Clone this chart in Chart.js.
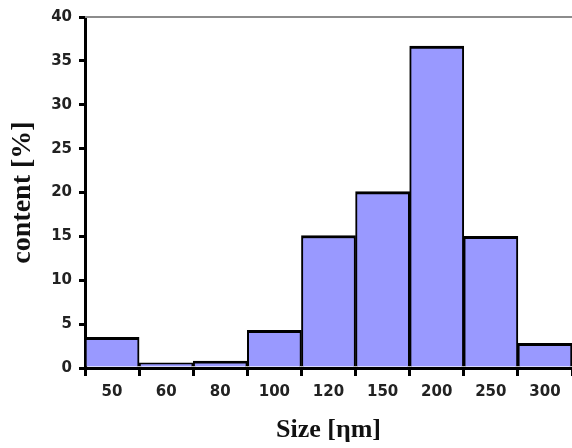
<!DOCTYPE html>
<html>
<head>
<meta charset="utf-8">
<script src="https://cdn.jsdelivr.net/npm/chart.js@4"></script>
<style>
  html, body { margin: 0; padding: 0; background: #fff; overflow: hidden; }
  #wrap { width: 572px; height: 448px; }
</style>
</head>
<body>
<div id="wrap"><canvas id="chart"></canvas></div>
<script>
const sizes = ['50', '60', '80', '100', '120', '150', '200', '250', '300'];
const content = [3.5, 0.6, 0.8, 4.3, 15.1, 20.1, 36.7, 15.0, 2.8];
const yTicks = [0, 5, 10, 15, 20, 25, 30, 35, 40];

// grey frame line on top of the plot area
const topLine = {
  id: 'topLine',
  afterDraw(chart) {
    const { ctx, chartArea } = chart;
    ctx.save();
    ctx.strokeStyle = '#8c8c8c';
    ctx.lineWidth = 2;
    ctx.beginPath();
    ctx.moveTo(chartArea.left, chartArea.top);
    ctx.lineTo(chartArea.right, chartArea.top);
    ctx.stroke();
    ctx.restore();
  }
};

const tickFont = { family: '"DejaVu Sans", Arial, sans-serif', size: 15, weight: 'bold' };
const titleFamily = '"Liberation Serif", "Times New Roman", serif';

new Chart(document.getElementById('chart'), {
  type: 'bar',
  data: {
    labels: sizes,
    datasets: [{
      data: content,
      backgroundColor: '#9999ff',
      borderColor: '#000',
      borderWidth: { top: 3, left: 2, right: 2, bottom: 0 },
      borderSkipped: false,
      categoryPercentage: 1,
      barPercentage: 1
    }]
  },
  options: {
    responsive: true,
    maintainAspectRatio: false,
    animation: false,
    layout: { padding: { top: 17, right: 0, left: 0, bottom: 0 } },
    plugins: {
      legend: { display: false },
      tooltip: { enabled: false }
    },
    scales: {
      x: {
        z: 1,
        offset: true,
        grid: {
          offset: true,
          drawOnChartArea: false,
          drawTicks: true,
          tickLength: 8,
          color: '#000',
          lineWidth: 3
        },
        border: { color: '#000', width: 3 },
        ticks: { color: '#222', font: tickFont, padding: 7, maxRotation: 0 },
        title: {
          display: true,
          text: 'Size [ηm]',
          color: '#111',
          font: { family: titleFamily, size: 26, weight: 'bold' },
          padding: { top: 4, bottom: 2 }
        },
        afterFit: s => { s.height = 80; }
      },
      y: {
        z: 1,
        min: 0,
        max: 40,
        afterBuildTicks: s => { s.ticks = yTicks.map(v => ({ value: v })); },
        grid: {
          drawOnChartArea: false,
          drawTicks: true,
          tickLength: 6,
          color: '#000',
          lineWidth: 3
        },
        border: { color: '#000', width: 3 },
        ticks: { color: '#222', font: tickFont, padding: 7 },
        title: {
          display: true,
          text: 'content [%]',
          color: '#111',
          font: { family: titleFamily, size: 28, weight: 'bold' },
          padding: { top: 6, bottom: 0 }
        },
        afterFit: s => { s.width = 85; }
      }
    }
  },
  plugins: [topLine]
});
</script>
</body>
</html>
